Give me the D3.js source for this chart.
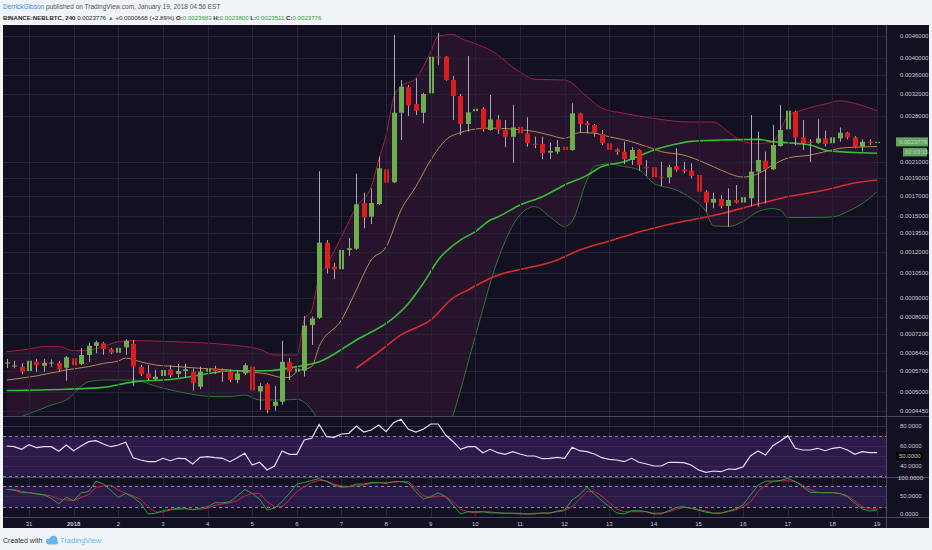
<!DOCTYPE html>
<html>
<head>
<meta charset="utf-8">
<script src="https://d3js.org/d3.v7.min.js"></script>
<style>
  body { margin: 0; background: #f0f3f8; }
  svg { display: block; font-family: "Liberation Sans", Arial, sans-serif; }
  .lbl { fill: #c9c9d4; font-size: 6px; }
</style>
</head>
<body>
<svg id="chart" width="932" height="550"></svg>
<script>
// ---- data (4h bars, first bar 30 Dec 2017 12:00) ----
var firstBar = Date.UTC(2017, 11, 30, 12);
var barMs = 4 * 3600 * 1000;

var opens = [
  0.000600, 0.000590, 0.000587, 0.000571, 0.000604, 0.000590, 0.000600, 0.000601, 0.000583, 0.000618,
  0.000597, 0.000631, 0.000668, 0.000679, 0.000654, 0.000640, 0.000662, 0.000676, 0.000587, 0.000563,
  0.000543, 0.000554, 0.000577, 0.000561, 0.000571, 0.000569, 0.000518, 0.000569, 0.000580, 0.000575,
  0.000569, 0.000540, 0.000563, 0.000587, 0.000503, 0.000526, 0.000460, 0.000472, 0.000605, 0.000569,
  0.000572, 0.000760, 0.000796, 0.001270, 0.001094, 0.001076, 0.001213, 0.001223, 0.001625, 0.001493,
  0.001615, 0.002005, 0.001849, 0.002851, 0.003342, 0.003009, 0.002851, 0.003216, 0.004040, 0.004040,
  0.003494, 0.003163, 0.002657, 0.002880, 0.002925, 0.002560, 0.002732, 0.002560, 0.002456, 0.002611,
  0.002507, 0.002350, 0.002346, 0.002223, 0.002237, 0.002307, 0.002261, 0.002840, 0.002670, 0.002640,
  0.002497, 0.002357, 0.002271, 0.002237, 0.002124, 0.002261, 0.002030, 0.002030, 0.001915, 0.001907,
  0.002046, 0.002000, 0.001987, 0.001935, 0.001745, 0.001629, 0.001667, 0.001595, 0.001656, 0.001629,
  0.001674, 0.001975, 0.002115, 0.002005, 0.002317, 0.002571, 0.002870, 0.002446, 0.002380, 0.002365,
  0.002431, 0.002357, 0.002431, 0.002517, 0.002446, 0.002307, 0.002380, 0.0023683
];
var highs = [
  0.000616, 0.000609, 0.000600, 0.000616, 0.000616, 0.000616, 0.000614, 0.000609, 0.000627, 0.000631,
  0.000659, 0.000681, 0.000690, 0.000685, 0.000660, 0.000664, 0.000696, 0.000693, 0.000593, 0.000593,
  0.000575, 0.000597, 0.000593, 0.000597, 0.000597, 0.000580, 0.000587, 0.000587, 0.000590, 0.000580,
  0.000575, 0.000575, 0.000599, 0.000593, 0.000529, 0.000529, 0.000520, 0.000690, 0.000619, 0.000587,
  0.000805, 0.000802, 0.001981, 0.001291, 0.001121, 0.001374, 0.001305, 0.001951, 0.001733, 0.001781,
  0.002171, 0.002058, 0.004625, 0.003494, 0.003387, 0.003533, 0.003230, 0.004170, 0.004690, 0.004058,
  0.003583, 0.003203, 0.004058, 0.003230, 0.002950, 0.003183, 0.002810, 0.002724, 0.002996, 0.002828,
  0.002770, 0.002456, 0.002456, 0.002365, 0.002405, 0.002431, 0.003022, 0.002851, 0.002710, 0.002657,
  0.002560, 0.002380, 0.002285, 0.002380, 0.002300, 0.002271, 0.002124, 0.002059, 0.002100, 0.002059,
  0.002285, 0.002100, 0.002080, 0.001975, 0.001762, 0.001733, 0.001709, 0.001781, 0.001818, 0.001690,
  0.002810, 0.002533, 0.002237, 0.002640, 0.002996, 0.003183, 0.002886, 0.002724, 0.002415, 0.002736,
  0.002549, 0.002600, 0.002600, 0.002533, 0.002466, 0.002415, 0.002415, 0.0023800
];
var lows = [
  0.000582, 0.000581, 0.000561, 0.000557, 0.000568, 0.000568, 0.000587, 0.000572, 0.000538, 0.000587,
  0.000593, 0.000605, 0.000638, 0.000631, 0.000635, 0.000631, 0.000631, 0.000520, 0.000554, 0.000540,
  0.000538, 0.000549, 0.000549, 0.000549, 0.000549, 0.000506, 0.000510, 0.000546, 0.000561, 0.000534,
  0.000534, 0.000529, 0.000557, 0.000487, 0.000448, 0.000439, 0.000446, 0.000463, 0.000540, 0.000529,
  0.000552, 0.000672, 0.000790, 0.001049, 0.001011, 0.001066, 0.001169, 0.001213, 0.001389, 0.001426,
  0.001605, 0.001762, 0.001840, 0.002405, 0.002793, 0.002810, 0.002668, 0.003085, 0.003840, 0.003480,
  0.002724, 0.002481, 0.002533, 0.002724, 0.002533, 0.002549, 0.002497, 0.002300, 0.002088, 0.002481,
  0.002307, 0.002285, 0.002133, 0.002133, 0.002205, 0.002161, 0.002250, 0.002517, 0.002507, 0.002456,
  0.002331, 0.002215, 0.002190, 0.002072, 0.002059, 0.001987, 0.001923, 0.001875, 0.001807, 0.001837,
  0.001975, 0.001955, 0.001895, 0.001719, 0.001540, 0.001572, 0.001572, 0.001403, 0.001620, 0.001183,
  0.001590, 0.001590, 0.001620, 0.001996, 0.002307, 0.002481, 0.002331, 0.002261, 0.002100, 0.002346,
  0.002307, 0.002331, 0.002380, 0.002415, 0.002285, 0.002237, 0.002331, 0.0023511
];
var closes = [
  0.000602, 0.000591, 0.000569, 0.000609, 0.000592, 0.000601, 0.000602, 0.000577, 0.000622, 0.000592,
  0.000631, 0.000668, 0.000683, 0.000655, 0.000640, 0.000660, 0.000689, 0.000587, 0.000561, 0.000546,
  0.000551, 0.000575, 0.000557, 0.000571, 0.000577, 0.000529, 0.000569, 0.000580, 0.000569, 0.000569,
  0.000540, 0.000563, 0.000592, 0.000506, 0.000520, 0.000448, 0.000472, 0.000605, 0.000569, 0.000580,
  0.000758, 0.000792, 0.001270, 0.001082, 0.001075, 0.001213, 0.001226, 0.001612, 0.001487, 0.001625,
  0.002018, 0.001845, 0.002851, 0.003354, 0.002986, 0.002886, 0.003203, 0.004040, 0.004020, 0.003494,
  0.003163, 0.002657, 0.002857, 0.002920, 0.002571, 0.002732, 0.002566, 0.002456, 0.002600, 0.002507,
  0.002357, 0.002340, 0.002215, 0.002247, 0.002303, 0.002261, 0.002840, 0.002657, 0.002640, 0.002517,
  0.002357, 0.002261, 0.002233, 0.002133, 0.002261, 0.002059, 0.002020, 0.001907, 0.001905, 0.002030,
  0.001996, 0.001980, 0.001923, 0.001745, 0.001629, 0.001667, 0.001595, 0.001656, 0.001629, 0.001685,
  0.001975, 0.002124, 0.002005, 0.002331, 0.002560, 0.002886, 0.002446, 0.002357, 0.002370, 0.002431,
  0.002346, 0.002446, 0.002517, 0.002446, 0.002300, 0.002380, 0.0023683, 0.0023776
];

// overlays: [bar number, value]
var bbUpper = [[0,0.000644],[3,0.000655],[5,0.000665],[7,0.000665],[9,0.000648],[11,0.000651],[13,0.000665],
  [15,0.000686],[17,0.000690],[22,0.000686],[26,0.000681],[30,0.000672],[34,0.000654],[36,0.000631],[39,0.000631],
  [40,0.000785],[41,0.000835],[42,0.001028],[43,0.001105],[45,0.001318],[47,0.001588],[49,0.00180],[50,0.002124],
  [51,0.00248],[52,0.00312],[53,0.003355],[55,0.00353],[57,0.00417],[58,0.00459],[60,0.00464],[61,0.00453],
  [63,0.00438],[65,0.00421],[69,0.00367],[71,0.00351],[75,0.003494],[78,0.00315],[80,0.00293],[83,0.00284],
  [87,0.00275],[92,0.00269],[95,0.00269],[97,0.00253],[99,0.00238],[101,0.002355],[103,0.00238],[104,0.00256],
  [105,0.00279],[107,0.00290],[110,0.00301],[112,0.00307],[114,0.00302],[117,0.002885]];
var bbLower = [[0,0.000415],[2,0.000430],[6,0.000462],[8,0.000477],[11,0.000534],[13,0.000540],[15,0.000540],
  [17,0.000540],[20,0.000520],[22,0.000508],[25,0.000494],[28,0.000487],[30,0.000487],[32,0.000492],[34,0.000477],
  [37,0.000477],[39,0.000479],[41,0.000448],[43,0.00038],[47,0.00030],[53,0.00025],[57,0.00030],[60,0.000434],
  [63,0.00071],[66,0.00114],[69,0.001509],[71,0.001589],[73,0.001493],[75,0.001405],[76,0.00145],[78,0.001875],
  [79,0.00204],[81,0.002072],[83,0.00204],[85,0.001996],[87,0.001837],[90,0.001762],[92,0.001674],[94,0.00154],
  [95,0.00141],[97,0.001405],[99,0.00145],[101,0.00154],[103,0.00157],[104,0.001556],[105,0.001485],
  [108,0.001485],[111,0.00149],[113,0.00154],[115,0.00162],[117,0.001743]];
var bbBasis = [[0,0.000540],[4,0.000554],[8,0.000575],[11,0.000587],[13,0.000599],[15,0.000608],[16,0.000619],
  [18,0.000605],[20,0.000593],[23,0.000587],[26,0.000581],[30,0.000575],[32,0.000569],[35,0.000561],[37,0.000549],
  [38,0.000549],[39,0.000569],[41,0.000587],[42,0.000665],[45,0.000785],[47,0.000946],[49,0.00114],[51,0.001236],
  [53,0.001556],[55,0.00180],[57,0.002124],[59,0.002405],[61,0.00252],[63,0.002575],[65,0.00259],[68,0.002575],
  [71,0.002535],[73,0.00248],[75,0.00243],[77,0.00252],[79,0.00251],[81,0.002455],[84,0.00238],[86,0.00231],
  [88,0.002237],[91,0.00219],[94,0.00208],[96,0.001996],[99,0.00191],[101,0.00195],[103,0.002059],[105,0.00215],
  [108,0.00219],[110,0.002237],[112,0.002285],[114,0.00230],[117,0.00231]];
var maGreen = [[0,0.000506],[8,0.000510],[13,0.000516],[17,0.000534],[22,0.000542],[26,0.000557],[30,0.000572],
  [35,0.000572],[39,0.000587],[42,0.000605],[47,0.000693],[52,0.000795],[54,0.00087],[56,0.000986],[58,0.00114],
  [61,0.001291],[63,0.00136],[65,0.001462],[66,0.00149],[69,0.001605],[72,0.00169],[75,0.001818],[78,0.00193],
  [80,0.00204],[83,0.00210],[85,0.002178],[87,0.002261],[90,0.002346],[92,0.002385],[96,0.002405],[101,0.002415],
  [103,0.00238],[105,0.002365],[108,0.002331],[110,0.002261],[112,0.002237],[115,0.002223],[117,0.002215]];
var maRed = [[47,0.000582],[50,0.000643],[53,0.000715],[57,0.000785],[60,0.00090],[62,0.000946],[65,0.001018],
  [74,0.00114],[77,0.001213],[81,0.001283],[86,0.001374],[91,0.00145],[93,0.001475],[96,0.00152],[101,0.001615],
  [105,0.00169],[110,0.001762],[114,0.00184],[117,0.001875]];

var rsi = [
  60, 59.3, 56.7, 61.3, 58.3, 59.3, 59.3, 54.7, 61, 55.3,
  60, 64.3, 65.3, 62, 59.3, 61, 63.7, 48.3, 46, 44.3,
  44.3, 47.7, 45.3, 47.7, 47.3, 42, 48.7, 49.3, 48.3, 47.7,
  44.3, 48.3, 52.7, 41, 43.7, 36, 40, 55, 51.7, 51.7,
  66, 67.7, 81.5, 69.3, 68.7, 72, 72.7, 80, 74, 76,
  81, 74.3, 83.3, 86.7, 76.7, 74, 76.7, 82, 82, 71,
  64.3, 56.7, 59.3, 59.3, 53.3, 56.7, 53.3, 51.7, 54.3, 52,
  50, 50, 47.3, 47.7, 48.7, 47.7, 58.7, 55.3, 54.3, 52,
  48.3, 46.7, 46, 44.3, 47.7, 43.7, 42, 40, 40, 43.7,
  43.7, 43.3, 41, 36, 33.7, 35, 34.3, 37, 36.7, 39.3,
  50.3, 55, 51, 60.3, 65, 70.3, 57.7, 56, 56, 57.7,
  55.3, 57.7, 58.7, 56, 51.7, 54.3, 53.3, 53.3
];
var stochK = [
  69, 67, 60, 60, 56, 54, 44, 29, 47, 38,
  60, 63, 92, 84, 66, 47, 58, 47, 31, 1,
  3, 10, 14, 17, 17, 12, 17, 21, 32, 32,
  35, 51, 69, 58, 42, 12, 17, 35, 58, 84,
  88, 94, 99, 91, 81, 75, 77, 84, 84, 88,
  88, 86, 91, 91, 86, 63, 42, 49, 60, 49,
  26, 1, 7, 7, 7, 4, 4, 3, 3, 1,
  1, 1, 4, 3, 9, 12, 40, 54, 75, 56,
  38, 21, 4, 1, 10, 10, 7, 1, 1, 10,
  19, 21, 17, 11, 6, 3, 3, 9, 15, 26,
  54, 81, 92, 92, 94, 100, 91, 77, 61, 60,
  60, 60, 58, 49, 31, 15, 9, 12
];
var stochD = [
  69, 69, 64, 60, 58, 54, 51, 42, 40, 38,
  47, 54, 75, 79, 81, 67, 58, 51, 42, 21,
  6, 6, 12, 14, 15, 14, 14, 17, 25, 29,
  32, 38, 51, 58, 58, 35, 21, 21, 40, 63,
  77, 88, 94, 93, 84, 79, 77, 79, 81, 86,
  88, 88, 89, 91, 91, 72, 51, 47, 51, 49,
  35, 14, 7, 4, 7, 7, 4, 3, 3, 3,
  1, 3, 3, 4, 7, 10, 21, 42, 63, 63,
  51, 32, 14, 7, 7, 7, 7, 3, 4, 7,
  14, 19, 17, 14, 9, 3, 4, 7, 12, 21,
  35, 63, 81, 91, 93, 93, 91, 81, 68, 61,
  60, 60, 58, 52, 37, 21, 15, 15
];

var priceTicks = [0.0046, 0.0040, 0.0036, 0.0032, 0.0028, 0.0021, 0.0019, 0.0017, 0.0015, 0.00135,
  0.0012, 0.00105, 0.0009, 0.0008, 0.00072, 0.00064, 0.00057, 0.0005, 0.000445];
var rsiTicks = [80, 60, 40];
var stochTicks = [100, 50, 0];

// ---- layout ----
var plot = { left: 3, right: 886, top: 25, bottom: 416 };
var rsiPane = { top: 416.5, bottom: 477.5 };
var stochPane = { top: 477.5, bottom: 517.5 };
var frame = { left: 3, right: 929, top: 25, bottom: 528 };
var bg = "#131022";

var svg = d3.select("#chart");
var barTime = function(k) { return new Date(firstBar + k * barMs); };

var x = d3.scaleUtc()
    .domain([new Date(Date.UTC(2017, 11, 30, 10)), new Date(Date.UTC(2018, 0, 19, 4, 48))])
    .range([plot.left, plot.right]);
var y = d3.scaleLog().domain([0.0004344, 0.00486]).range([415, 27]);
var yRsi = d3.scaleLinear().domain([30, 80]).range([476, 426]);
var yStoch = d3.scaleLinear().domain([0, 100]).range([514.3, 478.3]);

// clips
var defs = svg.append("defs");
function clip(id, y0, y1) {
  defs.append("clipPath").attr("id", id).append("rect")
    .attr("x", plot.left).attr("y", y0).attr("width", plot.right - plot.left).attr("height", y1 - y0);
}
clip("cMain", plot.top, plot.bottom);
clip("cRsi", rsiPane.top, rsiPane.bottom);
clip("cStoch", stochPane.top, stochPane.bottom);

// dark frame
svg.append("rect").attr("x", frame.left).attr("y", frame.top)
  .attr("width", frame.right - frame.left).attr("height", frame.bottom - frame.top).attr("fill", bg);

// ---- main pane ----
var gMain = svg.append("g").attr("clip-path", "url(#cMain)");
var ox = function(d) { return x(barTime(d[0])); };

gMain.append("path")
  .attr("d", d3.area().x(ox).y0(plot.bottom).y1(function(d) { return y(d[1]); }).curve(d3.curveMonotoneX)(bbUpper))
  .attr("fill", "#27142c");
gMain.append("path")
  .attr("d", d3.area().x(ox).y0(plot.bottom).y1(function(d) { return y(d[1]); }).curve(d3.curveMonotoneX)(bbLower))
  .attr("fill", bg);

// grid
var grid = "#252339";
gMain.selectAll(".hg").data(priceTicks).join("line")
  .attr("x1", plot.left).attr("x2", plot.right)
  .attr("y1", function(d) { return Math.round(y(d)) + 0.5; })
  .attr("y2", function(d) { return Math.round(y(d)) + 0.5; })
  .attr("stroke", grid);

var days = d3.utcDay.range(new Date(Date.UTC(2017, 11, 31)), new Date(Date.UTC(2018, 0, 19, 2)));
svg.append("g").selectAll("line").data(days).join("line")
  .attr("x1", function(d) { return Math.round(x(d)) + 0.5; })
  .attr("x2", function(d) { return Math.round(x(d)) + 0.5; })
  .attr("y1", plot.top).attr("y2", stochPane.bottom)
  .attr("stroke", grid);

var overlay = d3.line().x(ox).y(function(d) { return y(d[1]); }).curve(d3.curveMonotoneX);
[[bbLower, "#2c7630", 1], [bbUpper, "#a01f3d", 1], [bbBasis, "#b08a52", 1],
 [maRed, "#d42b2b", 1.6], [maGreen, "#30c030", 1.6]].forEach(function(s) {
  gMain.append("path").attr("d", overlay(s[0]))
    .attr("fill", "none").attr("stroke", s[1]).attr("stroke-width", s[2]);
});

// candles
var idx = d3.range(opens.length);
var cx = function(k) { return Math.round(x(barTime(k))); };
var gC = gMain.append("g");
gC.selectAll("line").data(idx).join("line")
  .attr("x1", function(k) { return cx(k) + 0.5; })
  .attr("x2", function(k) { return cx(k) + 0.5; })
  .attr("y1", function(k) { return y(highs[k]); })
  .attr("y2", function(k) { return y(lows[k]); })
  .attr("stroke", "#a8a8b4");
gC.selectAll("rect").data(idx).join("rect")
  .attr("x", function(k) { return cx(k) - 2; })
  .attr("width", 5)
  .attr("y", function(k) { return Math.min(y(opens[k]), y(closes[k])); })
  .attr("height", function(k) { return Math.max(1, Math.abs(y(opens[k]) - y(closes[k]))); })
  .attr("fill", function(k) { return closes[k] >= opens[k] ? "#6cae4e" : "#d71f1f"; });

// ---- RSI pane ----
var gRsi = svg.append("g").attr("clip-path", "url(#cRsi)");
gRsi.append("rect").attr("x", plot.left).attr("width", plot.right - plot.left)
  .attr("y", yRsi(70)).attr("height", yRsi(30) - yRsi(70)).attr("fill", "#2b1a4a");
gRsi.selectAll(".g").data([80, 60, 50, 40]).join("line")
  .attr("x1", plot.left).attr("x2", plot.right)
  .attr("y1", function(d) { return Math.round(yRsi(d)) + 0.5; })
  .attr("y2", function(d) { return Math.round(yRsi(d)) + 0.5; })
  .attr("stroke", "#342a52");
gRsi.selectAll(".dash").data([70, 30]).join("line")
  .attr("x1", plot.left).attr("x2", plot.right)
  .attr("y1", function(d) { return Math.round(yRsi(d)) + 0.5; })
  .attr("y2", function(d) { return Math.round(yRsi(d)) + 0.5; })
  .attr("stroke", "#8a82a8").attr("stroke-dasharray", "3,3");
gRsi.append("path")
  .attr("d", d3.line().x(function(d, k) { return x(barTime(k)); }).y(function(d) { return yRsi(d); })(rsi))
  .attr("fill", "none").attr("stroke", "#e8dcf6").attr("stroke-width", 1.2);

// ---- Stochastic pane ----
var gSt = svg.append("g").attr("clip-path", "url(#cStoch)");
gSt.append("rect").attr("x", plot.left).attr("width", plot.right - plot.left)
  .attr("y", yStoch(80)).attr("height", yStoch(20) - yStoch(80)).attr("fill", "#2a1a48");
gSt.selectAll(".g").data([50]).join("line")
  .attr("x1", plot.left).attr("x2", plot.right)
  .attr("y1", Math.round(yStoch(50)) + 0.5).attr("y2", Math.round(yStoch(50)) + 0.5)
  .attr("stroke", "#342a52");
gSt.selectAll(".dash").data([80, 20]).join("line")
  .attr("x1", plot.left).attr("x2", plot.right)
  .attr("y1", function(d) { return Math.round(yStoch(d)) + 0.5; })
  .attr("y2", function(d) { return Math.round(yStoch(d)) + 0.5; })
  .attr("stroke", "#8a82a8").attr("stroke-dasharray", "3,3");
var stLine = d3.line().x(function(d, k) { return x(barTime(k)); }).y(function(d) { return yStoch(d); });
gSt.append("path").attr("d", stLine(stochD)).attr("fill", "none").attr("stroke", "#c8264e").attr("stroke-width", 1);
gSt.append("path").attr("d", stLine(stochK)).attr("fill", "none").attr("stroke", "#2ea23a").attr("stroke-width", 1);

// ---- separators ----
var sep = "#4a4862";
[plot.bottom + 0.5, rsiPane.bottom, stochPane.bottom].forEach(function(v) {
  svg.append("line").attr("x1", frame.left).attr("x2", frame.right).attr("y1", v).attr("y2", v).attr("stroke", sep);
});
svg.append("line").attr("x1", plot.right + 0.5).attr("x2", plot.right + 0.5)
  .attr("y1", frame.top).attr("y2", frame.bottom).attr("stroke", sep);

// ---- right axis labels ----
var ax = svg.append("g");
ax.selectAll(".p").data(priceTicks).join("text").attr("class", "lbl")
  .attr("x", 900).attr("y", function(d) { return y(d) + 2; })
  .text(function(d) { return d.toFixed(7); });
ax.selectAll(".r").data(rsiTicks).join("text").attr("class", "lbl")
  .attr("x", 900).attr("y", function(d) { return yRsi(d) + 2; })
  .text(function(d) { return d.toFixed(4); });
ax.append("rect").attr("x", 896).attr("y", yRsi(50) - 4).attr("width", 27).attr("height", 8).attr("fill", "#050508");
ax.append("text").attr("class", "lbl").attr("fill", "#ffffff").attr("x", 899).attr("y", yRsi(50) + 2).text("50.0000");
ax.selectAll(".s").data(stochTicks).join("text").attr("class", "lbl")
  .attr("x", function(d) { return d === 100 ? 898 : 900; })
  .attr("y", function(d) { return yStoch(d) + 2; })
  .text(function(d) { return d.toFixed(4); });

// last price + countdown
var last = closes[closes.length - 1];
ax.append("rect").attr("x", 896).attr("y", y(last) - 4.5).attr("width", 32).attr("height", 9).attr("fill", "#5ea85a");
ax.append("text").attr("class", "lbl").attr("fill", "#f4fff2").attr("x", 899).attr("y", y(last) + 2).text(last.toFixed(7));
ax.append("rect").attr("x", 903).attr("y", y(last) + 6).attr("width", 24).attr("height", 8.5).attr("fill", "#5ea85a");
ax.append("text").attr("class", "lbl").attr("fill", "#f4fff2").attr("x", 905).attr("y", y(last) + 12.3).text("02:03:15");

// ---- time axis ----
svg.append("g").selectAll("text").data(days).join("text").attr("class", "lbl")
  .attr("x", function(d) { return x(d); }).attr("y", 525.5)
  .attr("text-anchor", "middle")
  .attr("font-weight", function(d) { return d.getUTCDate() === 1 ? "bold" : null; })
  .text(function(d) { return (d.getUTCMonth() === 0 && d.getUTCDate() === 1) ? "2018" : d.getUTCDate(); });

// ---- header ----
var h1 = svg.append("text").attr("x", 3).attr("y", 9).attr("font-size", 6.5);
h1.append("tspan").attr("fill", "#3b8fda").text("DerrickGibson");
h1.append("tspan").attr("fill", "#555").text(" published on TradingView.com, January 19, 2018 04:56 EST");

var up = "#35a035";
var h2 = svg.append("text").attr("x", 3).attr("y", 19.5).attr("font-size", 6.1).attr("fill", "#2a2a2a");
h2.append("tspan").attr("font-weight", "bold").text("BINANCE:NEBLBTC, 240 ");
h2.append("tspan").text("0.0023776 ");
h2.append("tspan").attr("fill", up).text("\u25B2 ");
h2.append("tspan").text("+0.0000668 (+2.89%) ");
[["O:", "0.0023683"], [" H:", "0.0023800"], [" L:", "0.0023511"], [" C:", "0.0023776"]].forEach(function(p) {
  h2.append("tspan").attr("font-weight", "bold").text(p[0]);
  h2.append("tspan").attr("fill", up).text(p[1]);
});

// ---- footer ----
svg.append("text").attr("x", 3).attr("y", 543).attr("font-size", 7).attr("fill", "#333").text("Created with");
var logo = svg.append("g").attr("fill", "#6db3e8");
logo.append("circle").attr("cx", 49).attr("cy", 541.5).attr("r", 3);
logo.append("circle").attr("cx", 53.5).attr("cy", 539.5).attr("r", 3.8);
logo.append("rect").attr("x", 49).attr("y", 540).attr("width", 9).attr("height", 4.5).attr("rx", 2);
svg.append("text").attr("x", 60).attr("y", 543).attr("font-size", 7.5).attr("fill", "#6db3e8").text("TradingView");
</script>
</body>
</html>
